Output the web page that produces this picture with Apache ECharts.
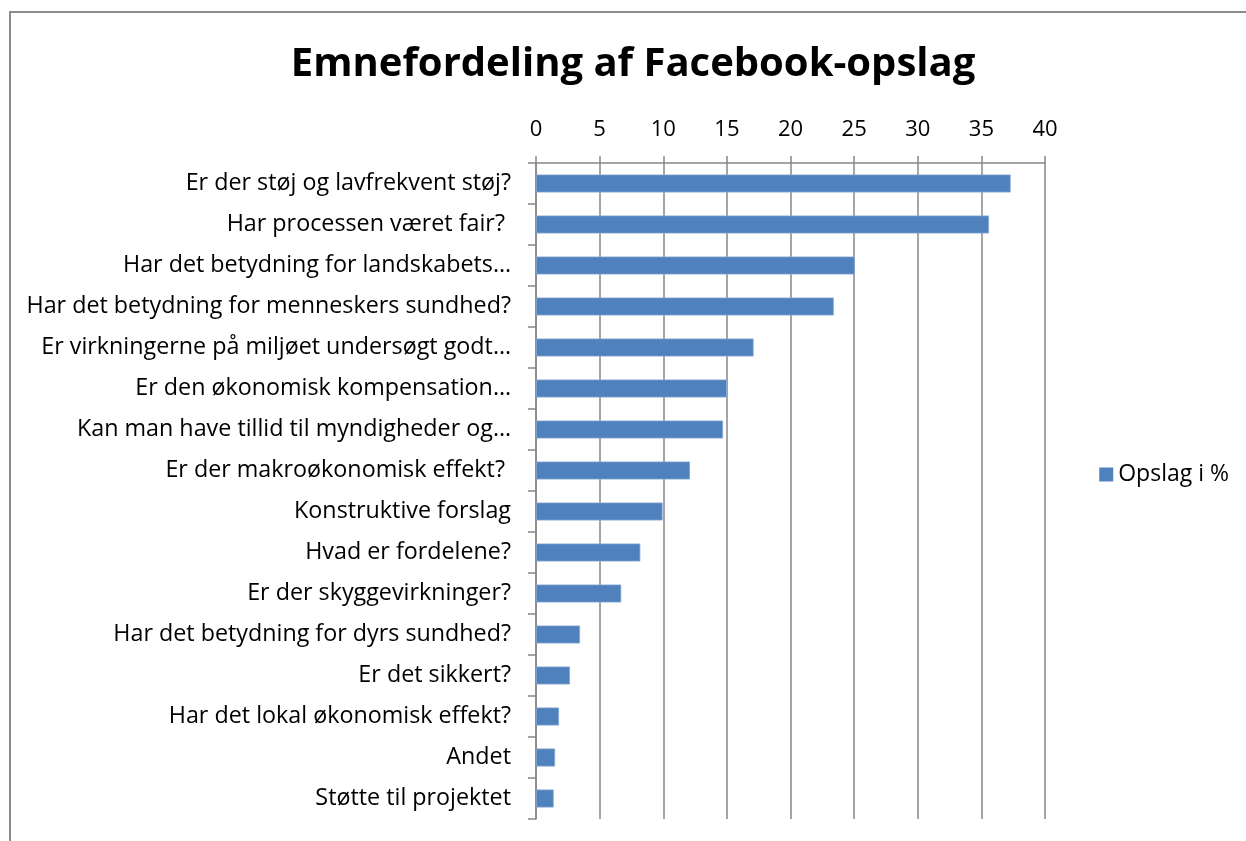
<!DOCTYPE html>
<html>
<head>
<meta charset="utf-8">
<style>
  html, body { margin: 0; padding: 0; background: #fff; }
  #chart { width: 1246px; height: 841px; }
</style>
<script src="https://cdn.jsdelivr.net/npm/echarts@6/dist/echarts.min.js"></script>
</head>
<body>
<div id="chart"></div>
<script>
	"use strict";

	/*-----data-----*/
	var categories = [
		'Er der støj og lavfrekvent støj?',
		'Har processen været fair? ',
		'Har det betydning for landskabets…',
		'Har det betydning for menneskers sundhed?',
		'Er virkningerne på miljøet undersøgt godt…',
		'Er den økonomisk kompensation…',
		'Kan man have tillid til myndigheder og…',
		'Er der makroøkonomisk effekt? ',
		'Konstruktive forslag',
		'Hvad er fordelene?',
		'Er der skyggevirkninger?',
		'Har det betydning for dyrs sundhed?',
		'Er det sikkert?',
		'Har det lokal økonomisk effekt?',
		'Andet',
		'Støtte til projektet'
	];
	var opslagValues = [37.3, 35.6, 25.05, 23.4, 17.1, 15.0, 14.7, 12.1, 9.95, 8.2, 6.7, 3.46, 2.67, 1.81, 1.5, 1.39];
	var seriesName = 'Opslag i %';

	var gridColor = '#878787';
	var font = 'Open Sans';

	var option = {
		animation: false,
		title: {
			text: 'Emnefordeling af Facebook-opslag',
			left: 628,
			top: 40,
			textAlign: 'center',
			textStyle: {
				fontFamily: font,
				fontSize: 40,
				fontWeight: 'bold',
				color: '#000'
			}
		},
		legend: {
			data: [{ name: seriesName, icon: 'rect' }],
			right: 12,
			top: 458,
			itemWidth: 14,
			itemHeight: 14,
			itemGap: 7,
			itemStyle: { borderWidth: 0 },
			textStyle: {
				fontFamily: font,
				fontSize: 23,
				color: '#000'
			}
		},
		grid: {
			left: 536,
			top: 163,
			right: 201,
			bottom: 22,
			containLabel: false
		},
		xAxis: {
			type: 'value',
			position: 'top',
			min: 0,
			max: 40,
			interval: 5,
			axisLine: {
				show: true,
				lineStyle: { color: gridColor, width: 1.5 }
			},
			axisTick: {
				show: true,
				length: 7,
				lineStyle: { color: gridColor, width: 1.5 }
			},
			splitLine: {
				show: true,
				lineStyle: { color: gridColor, width: 1.5 }
			},
			axisLabel: {
				fontFamily: font,
				fontSize: 22,
				color: '#000',
				margin: 22
			}
		},
		yAxis: {
			type: 'category',
			inverse: true,
			data: categories,
			axisLine: {
				show: true,
				lineStyle: { color: gridColor, width: 1.5 }
			},
			axisTick: {
				show: true,
				length: 8,
				lineStyle: { color: gridColor, width: 1.5 }
			},
			axisLabel: {
				fontFamily: font,
				fontSize: 23.3,
				color: '#000',
				margin: 25
			}
		},
		series: [
			{
				name: seriesName,
				type: 'bar',
				data: opslagValues,
				barWidth: 18,
				itemStyle: {
					color: '#4f81bd',
					borderColor: '#86a8d4',
					borderWidth: 0.8
				}
			}
		],
		graphic: [
			{
				type: 'rect',
				shape: { x: 10, y: 12, width: 1400, height: 1000 },
				style: { fill: 'none', stroke: '#8c8c8c', lineWidth: 2 },
				silent: true
			}
		]
	};

	var chart = echarts.init(document.getElementById('chart'));
	chart.setOption(option);
</script>
</body>
</html>
